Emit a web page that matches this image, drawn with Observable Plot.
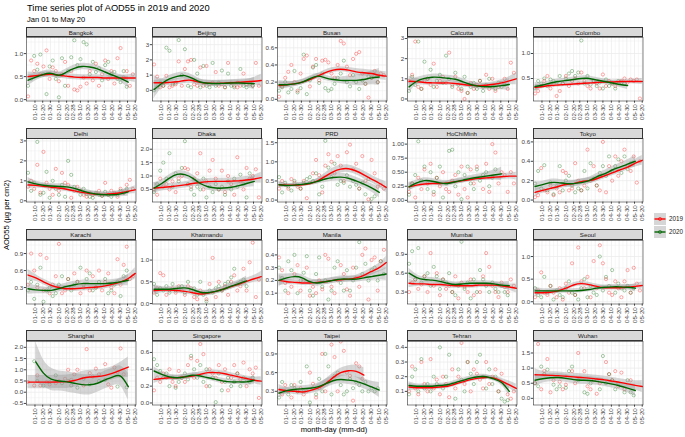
<!DOCTYPE html>
<html><head><meta charset="utf-8">
<script src="https://cdn.jsdelivr.net/npm/d3@7"></script>
<script src="https://cdn.jsdelivr.net/npm/@observablehq/plot@0.6"></script>
<style>
body{margin:0;background:#fff;font-family:"Liberation Sans",Arial,Helvetica,sans-serif;}
#root{position:relative;width:685px;height:437px;overflow:hidden;background:#fff;}
.abs{position:absolute;white-space:nowrap;line-height:1;}
.strip{position:absolute;box-sizing:border-box;background:#d9d9d9;border:0.6px solid #333;font-size:6.2px;color:#1a1a1a;text-align:center;line-height:9.4px;}
svg{overflow:visible}
</style></head><body><div id="root"></div>
<script>
// ---------- DATA ----------
const cities = ["Bangkok","Beijing","Busan","Calcutta","Colombo","Delhi","Dhaka","PRD","HoChiMinh","Tokyo","Karachi","Khatmandu","Manila","Mumbai","Seoul","Shanghai","Singapore","Taipei","Tehran","Wuhan"];
const seriesNames = ["2019","2020"];
const seriesColors = ["#ff0000","#006400"];
const xTickLabels = ["01-10","01-20","01-30","02-10","02-20","02-28","03-10","03-20","03-30","04-10","04-20","04-30","05-10","05-20"];
const yTickLabels = [
 ["0.0","0.5","1.0"],["0","1","2","3"],["0.0","0.2","0.4","0.6"],["0","1","2","3"],["0.5","1.0"],
 ["0","1","2","3"],["0.5","1.0","1.5","2.0"],["0.0","0.5","1.0","1.5"],["0.00","0.25","0.50","0.75","1.00"],["0.0","0.2","0.4","0.6"],
 ["0.3","0.6","0.9"],["0.0","0.5","1.0"],["0.1","0.2","0.3","0.4"],["0.3","0.6","0.9"],["0.0","0.5","1.0"],
 ["-0.5","0.0","0.5","1.0","1.5","2.0"],["0.0","0.2","0.4","0.6"],["0.3","0.6","0.9"],["0.1","0.2","0.3","0.4"],["0.0","0.5","1.0","1.5"]
];
const yDomains = [
 [-0.03,1.35],[-0.70,3.47],[-0.02,0.72],[-0.1,3.05],[0.05,1.32],
 [-0.06,3.12],[0.03,2.40],[-0.05,1.61],[-0.03,1.10],[-0.02,0.635],
 [0.01,1.13],[-0.01,1.45],[0.015,0.513],[0.11,1.12],[-0.05,1.355],
 [-0.57,2.26],[-0.024,0.73],[0.08,1.10],[0.007,0.44],[-0.22,1.88]
];
// smoothed curve knots (day of year offset from Jan 01)
const knotDays = [0,10,20,30,40,50,60,70,80,90,100,110,120,130,139];
const smooth2019 = [
 [0.50,0.52,0.54,0.55,0.53,0.51,0.49,0.48,0.48,0.48,0.47,0.47,0.47,0.47,0.47],
 [0.50,0.50,0.52,0.56,0.65,0.65,0.52,0.47,0.46,0.47,0.50,0.53,0.56,0.60,0.65],
 [0.16,0.17,0.18,0.20,0.23,0.27,0.31,0.34,0.35,0.34,0.32,0.31,0.30,0.28,0.27],
 [0.88,0.86,0.82,0.80,0.79,0.80,0.77,0.72,0.68,0.66,0.68,0.73,0.80,0.90,1.00],
 [0.32,0.34,0.36,0.37,0.38,0.39,0.40,0.41,0.42,0.43,0.43,0.44,0.44,0.44,0.44],
 [0.80,0.77,0.73,0.68,0.64,0.58,0.50,0.42,0.36,0.32,0.32,0.35,0.40,0.48,0.55],
 [0.55,0.57,0.60,0.63,0.67,0.72,0.76,0.79,0.80,0.80,0.81,0.82,0.85,0.89,0.94],
 [0.40,0.39,0.39,0.40,0.43,0.50,0.62,0.74,0.81,0.82,0.76,0.66,0.55,0.44,0.33],
 [0.24,0.27,0.29,0.30,0.30,0.31,0.33,0.35,0.37,0.39,0.40,0.41,0.42,0.43,0.43],
 [0.08,0.10,0.12,0.14,0.16,0.17,0.19,0.20,0.22,0.25,0.28,0.31,0.34,0.38,0.41],
 [0.52,0.47,0.40,0.34,0.30,0.28,0.28,0.29,0.30,0.31,0.33,0.36,0.40,0.46,0.55],
 [0.30,0.31,0.31,0.30,0.28,0.25,0.22,0.24,0.28,0.33,0.39,0.45,0.51,0.57,0.62],
 [0.20,0.19,0.185,0.18,0.18,0.185,0.19,0.20,0.205,0.21,0.22,0.24,0.27,0.30,0.34],
 [0.44,0.43,0.43,0.42,0.42,0.41,0.40,0.40,0.40,0.41,0.41,0.41,0.40,0.38,0.36],
 [0.20,0.20,0.21,0.24,0.30,0.37,0.40,0.38,0.34,0.31,0.31,0.31,0.32,0.34,0.36],
 [0.45,0.45,0.45,0.45,0.46,0.47,0.52,0.62,0.68,0.70,0.75,0.85,0.98,1.12,null],
 [0.28,0.29,0.30,0.30,0.31,0.32,0.34,0.36,0.36,0.35,0.33,0.31,0.29,0.27,0.26],
 [0.33,0.31,0.30,0.29,0.31,0.35,0.42,0.52,0.60,0.63,0.62,0.56,null,null,null],
 [0.13,0.125,0.125,0.125,0.13,0.135,0.15,0.165,0.18,0.19,0.195,0.19,0.17,0.145,0.12],
 [0.78,0.77,0.76,0.75,0.73,0.71,0.69,0.67,0.64,0.61,0.57,0.53,0.48,0.43,0.39]
];
const smooth2020 = [
 [0.42,0.49,0.55,0.57,0.53,0.60,0.68,0.72,0.71,0.67,0.60,0.53,0.46,0.38,null],
 [0.05,0.45,0.75,0.92,0.97,0.78,0.55,0.47,0.45,0.46,0.48,0.48,0.46,0.44,null],
 [0.17,0.17,0.18,0.20,0.24,0.27,0.25,0.23,0.22,0.22,0.22,0.23,0.25,0.26,null],
 [0.60,0.88,1.02,1.08,1.07,1.03,0.98,0.85,0.72,0.64,0.61,0.62,0.66,0.72,null],
 [0.34,0.37,0.41,0.44,0.46,0.48,0.50,0.50,0.47,0.44,0.41,0.38,0.36,null,null],
 [0.95,0.85,0.78,0.74,0.72,0.70,0.62,0.50,0.40,0.33,0.30,0.30,0.35,0.45,null],
 [0.55,0.72,0.92,1.06,1.05,0.92,0.72,0.60,0.55,0.55,0.58,0.64,0.72,0.80,null],
 [0.40,0.38,0.39,0.41,0.44,0.49,0.55,0.59,0.60,0.57,0.50,0.42,0.32,0.20,null],
 [0.24,0.31,0.35,0.34,0.31,0.30,0.33,0.36,0.39,0.41,0.43,0.45,0.47,null,null],
 [0.14,0.16,0.18,0.18,0.17,0.17,0.18,0.20,0.24,0.27,0.31,0.34,0.37,0.40,null],
 [0.28,0.26,0.25,0.25,0.28,0.32,0.35,0.37,0.37,0.37,0.37,0.38,0.40,0.43,null],
 [0.33,0.33,0.33,0.35,0.36,0.32,0.26,0.25,0.28,0.33,0.40,0.46,0.52,null,null],
 [0.20,0.22,0.23,0.22,0.19,0.18,0.19,0.20,0.21,0.21,0.21,0.22,0.23,0.24,0.25],
 [0.60,0.53,0.50,0.49,0.47,0.44,0.42,0.43,0.44,0.44,0.44,0.43,0.41,0.40,null],
 [0.24,0.24,0.24,0.24,0.24,0.24,0.25,0.27,0.30,0.32,0.33,0.33,0.32,0.30,null],
 [null,1.35,0.85,0.58,0.50,0.46,0.40,0.34,0.33,0.40,0.55,0.68,0.72,0.25,null],
 [0.38,0.34,0.31,0.30,0.31,0.33,0.32,0.30,0.28,0.26,0.25,0.25,0.25,0.27,null],
 [0.27,0.31,0.33,0.34,0.35,0.37,0.42,0.47,0.49,0.48,0.46,0.42,0.37,0.32,null],
 [0.14,0.135,0.135,0.135,0.14,0.145,0.16,0.175,0.19,0.20,0.20,0.185,0.16,0.10,null],
 [0.60,0.65,0.68,0.69,0.66,0.62,0.60,0.59,0.56,0.52,0.47,0.41,0.34,0.26,null]
];
// half-width of the confidence band at each knot
const band2019 = [
 [0.10,0.07,0.06,0.06,0.06,0.06,0.06,0.06,0.06,0.06,0.06,0.06,0.06,0.07,0.10],
 [0.45,0.25,0.2,0.2,0.2,0.2,0.2,0.2,0.2,0.2,0.2,0.2,0.2,0.25,0.4],
 [0.04,0.03,0.03,0.03,0.03,0.03,0.03,0.03,0.03,0.03,0.04,0.04,0.04,0.05,0.05],
 [0.25,0.15,0.13,0.12,0.12,0.12,0.12,0.12,0.12,0.12,0.12,0.13,0.15,0.2,0.3],
 [0.06,0.04,0.04,0.04,0.04,0.04,0.04,0.04,0.04,0.04,0.04,0.04,0.04,0.05,0.06],
 [0.2,0.13,0.12,0.12,0.12,0.12,0.12,0.12,0.12,0.12,0.12,0.12,0.13,0.15,0.2],
 [0.2,0.13,0.12,0.12,0.12,0.12,0.12,0.12,0.12,0.12,0.12,0.12,0.13,0.15,0.2],
 [0.08,0.05,0.05,0.05,0.05,0.07,0.09,0.1,0.1,0.1,0.1,0.1,0.1,0.11,0.14],
 [0.07,0.04,0.04,0.04,0.04,0.04,0.04,0.04,0.04,0.04,0.04,0.04,0.05,0.05,0.07],
 [0.04,0.03,0.03,0.03,0.03,0.03,0.03,0.03,0.03,0.03,0.03,0.03,0.03,0.04,0.05],
 [0.1,0.06,0.05,0.05,0.05,0.05,0.05,0.05,0.05,0.05,0.05,0.05,0.06,0.07,0.1],
 [0.1,0.06,0.06,0.06,0.06,0.06,0.06,0.06,0.06,0.06,0.06,0.06,0.07,0.08,0.12],
 [0.04,0.025,0.02,0.02,0.02,0.02,0.02,0.02,0.02,0.02,0.02,0.025,0.03,0.035,0.05],
 [0.07,0.04,0.04,0.04,0.04,0.04,0.04,0.04,0.04,0.04,0.04,0.04,0.04,0.05,0.07],
 [0.08,0.05,0.05,0.05,0.05,0.05,0.05,0.05,0.05,0.05,0.05,0.05,0.05,0.06,0.08],
 [0.3,0.3,0.3,0.3,0.3,0.3,0.3,0.3,0.3,0.3,0.3,0.3,0.35,0.45,null],
 [0.05,0.03,0.03,0.03,0.03,0.03,0.03,0.03,0.03,0.03,0.03,0.03,0.03,0.04,0.05],
 [0.08,0.05,0.05,0.05,0.05,0.06,0.07,0.07,0.07,0.08,0.1,0.12,null,null,null],
 [0.025,0.015,0.015,0.015,0.015,0.015,0.015,0.015,0.015,0.015,0.015,0.015,0.02,0.025,0.03],
 [0.2,0.13,0.12,0.12,0.12,0.12,0.12,0.12,0.12,0.12,0.12,0.12,0.13,0.15,0.2]
];
const band2020 = [
 [0.12,0.08,0.07,0.07,0.07,0.07,0.07,0.07,0.07,0.07,0.07,0.07,0.08,0.12,null],
 [0.6,0.3,0.22,0.22,0.22,0.22,0.2,0.2,0.2,0.2,0.2,0.2,0.25,0.4,null],
 [0.05,0.04,0.03,0.03,0.03,0.03,0.03,0.03,0.04,0.05,0.06,0.07,0.08,0.1,null],
 [0.3,0.18,0.15,0.15,0.15,0.15,0.15,0.15,0.15,0.15,0.15,0.17,0.2,0.3,null],
 [0.08,0.05,0.05,0.05,0.05,0.05,0.05,0.05,0.05,0.05,0.05,0.06,0.08,null,null],
 [0.22,0.14,0.13,0.13,0.13,0.13,0.13,0.13,0.13,0.13,0.13,0.13,0.15,0.22,null],
 [0.2,0.14,0.13,0.13,0.13,0.13,0.13,0.13,0.13,0.13,0.13,0.13,0.15,0.2,null],
 [0.08,0.05,0.05,0.05,0.05,0.07,0.09,0.1,0.1,0.1,0.1,0.1,0.11,0.14,null],
 [0.08,0.05,0.05,0.05,0.05,0.05,0.05,0.05,0.05,0.06,0.07,0.09,0.12,null,null],
 [0.05,0.035,0.035,0.035,0.035,0.035,0.035,0.035,0.035,0.035,0.035,0.04,0.045,0.06,null],
 [0.1,0.07,0.06,0.06,0.06,0.06,0.06,0.06,0.06,0.06,0.06,0.06,0.07,0.1,null],
 [0.1,0.06,0.06,0.06,0.06,0.06,0.06,0.06,0.06,0.06,0.07,0.08,0.11,null,null],
 [0.05,0.03,0.025,0.025,0.025,0.025,0.025,0.025,0.025,0.025,0.025,0.025,0.03,0.035,0.05],
 [0.08,0.05,0.04,0.04,0.04,0.04,0.04,0.04,0.04,0.04,0.04,0.04,0.05,0.07,null],
 [0.08,0.05,0.05,0.05,0.05,0.05,0.05,0.05,0.05,0.05,0.05,0.05,0.06,0.08,null],
 [null,0.9,0.6,0.5,0.45,0.45,0.45,0.45,0.45,0.4,0.4,0.4,0.45,0.6,null],
 [0.05,0.03,0.03,0.03,0.03,0.03,0.03,0.03,0.03,0.03,0.03,0.03,0.04,0.05,null],
 [0.08,0.05,0.05,0.05,0.05,0.06,0.07,0.07,0.07,0.07,0.07,0.08,0.09,0.12,null],
 [0.025,0.015,0.015,0.015,0.015,0.015,0.015,0.015,0.015,0.015,0.015,0.015,0.02,0.03,null],
 [0.2,0.14,0.13,0.13,0.13,0.13,0.13,0.13,0.13,0.13,0.13,0.13,0.15,0.2,null]
];
// observed points (sampled every 4 days from Jan 01)
const pointDays = [0,4,8,12,16,20,24,28,32,36,40,44,48,52,56,60,64,68,72,76,80,84,88,92,96,100,104,108,112,116,120,124,128,132,136];
const points2019 = [
 [0.07,0.85,0.62,0.78,0.55,0.72,1.07,0.45,0.70,0.62,0.40,0.55,0.82,0.30,0.62,0.22,0.20,0.28,0.48,0.35,0.62,0.42,0.78,0.30,0.55,0.85,0.45,0.62,0.35,0.90,1.12,0.48,0.62,0.30,0.55],
 [1.7,0.9,0.2,0.3,0.95,0.2,0.3,0.4,1.9,0.3,1.4,1.9,2.0,0.4,0.3,1.5,0.3,1.6,0.4,0.5,1.2,0.3,0.4,0.2,1.8,0.5,0.3,0.2,0.3,1.1,0.4,0.5,0.3,1.8,0.3],
 [0.03,0.15,0.25,0.32,0.40,0.20,0.10,0.30,0.47,0.51,0.15,0.38,0.47,0.22,0.45,0.46,0.43,0.30,0.25,0.40,0.68,0.65,0.38,0.28,0.47,0.53,0.55,0.30,0.18,0.02,0.25,0.33,0.20,0.30,0.28],
 [0.9,1.2,2.85,0.6,0.5,0.9,1.0,0.7,1.75,0.6,0.9,1.1,0.8,2.3,0.7,1.1,0.5,0.4,0.0,0.3,0.8,0.5,0.7,0.9,0.6,1.2,0.5,1.0,0.4,0.6,0.8,1.0,0.5,1.8,1.3],
 [0.20,0.25,0.35,0.45,0.55,0.30,0.38,0.15,0.25,0.40,0.55,0.35,0.45,0.50,0.40,0.62,0.45,0.35,0.30,0.45,0.40,0.30,0.58,0.35,0.45,0.40,0.35,0.40,0.45,0.50,0.42,0.48,0.45,0.48,0.10],
 [0.7,1.0,0.6,1.8,0.4,2.45,0.9,0.6,0.3,1.6,0.5,1.4,0.9,0.8,0.15,0.5,0.7,0.5,0.3,0.2,0.4,0.3,0.35,0.5,0.25,0.9,0.3,0.5,0.4,0.2,0.6,0.4,0.8,1.05,0.6],
 [0.5,0.3,0.9,0.6,0.7,0.5,0.8,0.4,0.9,1.0,1.3,1.25,0.6,0.9,1.1,1.85,0.5,0.8,1.2,1.6,0.9,0.5,1.2,0.4,1.0,0.7,0.3,1.7,0.8,0.5,1.3,0.9,1.0,1.25,0.2],
 [0.3,0.5,0.4,0.3,0.55,0.45,0.35,0.3,0.5,0.05,0.45,0.7,1.05,0.65,0.2,0.9,1.2,1.0,0.7,1.15,0.9,0.5,1.25,1.45,0.8,0.95,0.3,1.15,0.5,0.02,1.05,0.7,0.35,0.4,0.3],
 [0.15,0.3,0.05,0.4,0.2,0.55,0.3,0.65,0.1,0.4,0.25,0.5,0.2,0.15,0.35,0.45,0.1,0.6,0.2,0.05,0.55,0.3,0.6,0.4,0.2,0.65,0.15,1.0,0.85,0.3,0.5,0.45,0.15,0.5,0.3],
 [0.03,0.05,0.33,0.1,0.08,0.15,0.05,0.12,0.08,0.30,0.28,0.1,0.12,0.38,0.20,0.10,0.15,0.52,0.2,0.35,0.15,0.1,0.6,0.08,0.35,0.2,0.45,0.25,0.4,0.52,0.35,0.3,0.45,0.18,0.4],
 [0.35,0.9,0.6,0.3,0.88,0.25,0.82,0.2,0.35,0.5,1.07,0.2,0.25,0.45,0.3,0.55,0.4,0.2,0.35,0.6,0.25,0.5,0.3,0.6,0.25,0.4,0.55,0.3,0.2,0.8,0.35,0.7,1.02,0.45,0.5],
 [0.25,0.35,0.7,0.65,0.2,0.3,0.35,0.25,0.4,0.3,0.2,0.4,0.35,0.15,0.1,0.3,0.25,0.1,0.45,1.05,0.15,0.5,0.3,0.4,0.2,0.5,0.65,0.3,0.4,0.8,0.3,0.95,1.4,0.15,0.55],
 [0.38,0.28,0.18,0.1,0.15,0.25,0.32,0.12,0.2,0.3,0.08,0.15,0.1,0.2,0.13,0.4,0.37,0.15,0.1,0.2,0.32,0.25,0.13,0.08,0.3,0.22,0.15,0.4,0.45,0.05,0.36,0.38,0.12,0.35,0.44],
 [0.3,0.45,0.5,0.35,0.42,0.55,0.3,0.92,0.4,0.6,0.25,0.5,0.35,0.4,0.3,0.55,0.2,0.45,0.38,0.3,0.5,0.25,0.42,0.3,0.55,0.92,0.7,0.4,0.3,0.22,0.45,0.38,0.3,0.5,0.4],
 [0.1,0.25,0.65,0.2,0.15,0.35,0.2,0.1,0.3,0.05,0.4,0.2,0.85,0.15,1.2,0.45,0.3,0.55,0.1,0.9,0.3,1.25,0.85,0.5,0.2,0.15,0.45,0.3,0.1,0.45,0.7,0.2,0.75,0.4,0.25],
 [0.45,null,0.3,0.75,0.3,null,0.45,0.35,null,0.4,0.5,null,0.6,1.0,0.55,0.8,1.0,null,0.3,1.92,0.85,0.7,1.05,0.8,null,1.25,0.35,0.2,1.1,0.9,1.95,0.8,null,null,null],
 [0.15,0.3,0.25,0.35,0.3,0.4,0.25,0.2,0.38,0.3,0.25,0.45,0.53,0.3,0.5,0.7,0.58,0.2,0.4,0.35,0.3,0.45,0.25,0.4,0.15,0.3,0.45,0.35,0.28,0.48,0.2,0.4,0.35,0.42,0.06],
 [0.3,0.25,0.4,0.3,0.2,0.4,0.3,0.35,0.25,0.3,0.6,0.42,0.2,0.35,0.9,0.3,0.45,1.05,0.85,0.3,1.1,0.95,0.6,0.55,0.15,0.75,0.7,0.5,null,null,null,null,null,null,null],
 [0.1,0.27,0.12,0.08,0.3,0.15,0.1,0.32,0.12,0.18,0.08,0.2,0.15,0.06,0.25,0.12,0.2,0.43,0.15,0.3,0.1,0.25,0.22,0.18,0.12,0.3,0.15,0.2,0.25,0.1,0.22,0.15,0.08,0.05,0.1],
 [0.5,1.8,0.3,0.9,1.3,0.2,0.6,null,0.55,0.3,0.45,null,0.9,0.5,1.5,null,0.9,0.4,0.3,0.6,0.15,0.5,null,1.2,0.8,0.6,0.9,0.4,0.85,0.3,null,0.6,null,null,null]
];
const points2020 = [
 [0.30,0.45,0.95,0.65,0.98,0.55,0.12,0.72,0.85,0.45,0.05,0.90,0.30,0.62,0.92,1.29,0.75,0.88,1.25,1.20,0.55,0.82,0.60,0.68,0.42,0.75,0.82,0.55,0.60,0.45,0.38,0.62,0.28,null,null],
 [0.0,0.2,0.5,0.3,2.8,2.6,0.4,0.5,3.3,1.0,2.7,0.3,0.2,2.0,1.1,0.2,1.6,0.3,0.2,1.8,0.3,0.5,1.3,0.2,1.1,0.3,0.2,0.5,1.4,0.3,0.2,0.4,0.3,null,null],
 [0.10,0.14,0.20,0.08,0.12,0.33,0.08,0.13,0.52,0.06,0.22,0.37,0.40,0.19,0.30,0.13,0.10,0.12,0.18,0.25,0.30,0.45,0.20,0.15,0.28,0.20,0.12,0.22,0.18,0.27,0.25,0.28,0.20,null,null],
 [0.4,1.1,0.7,2.85,0.5,1.85,1.0,1.45,0.6,0.9,1.2,0.8,2.15,1.0,0.6,1.3,0.7,0.5,1.1,0.3,0.6,0.8,0.5,0.9,0.4,0.7,1.0,0.6,0.5,0.8,0.6,0.7,null,null,null],
 [0.30,0.45,0.40,0.50,0.35,0.48,0.45,0.42,0.55,0.40,0.50,0.60,0.65,0.55,0.62,1.26,0.40,0.55,0.38,0.45,0.35,0.42,0.30,0.48,0.35,0.40,0.30,0.45,0.42,0.40,null,null,null,null,null],
 [1.4,0.5,0.9,2.95,0.3,0.4,1.45,0.15,1.0,0.6,0.3,0.8,0.2,2.0,1.3,0.7,0.5,0.3,0.6,0.35,0.2,0.15,0.4,0.3,0.25,0.45,0.3,0.2,0.35,0.3,0.5,0.4,0.6,null,null],
 [0.4,0.7,1.2,1.5,0.9,1.85,0.6,1.1,0.8,1.3,2.3,0.7,0.5,0.3,0.6,0.5,0.9,0.2,0.6,0.4,0.7,0.5,0.6,0.3,0.8,0.5,0.9,0.6,1.05,0.7,0.2,1.1,null,null,null],
 [0.6,0.2,0.45,0.35,0.25,0.5,0.4,0.3,0.45,0.55,0.6,0.5,0.7,0.15,0.35,1.55,0.85,0.6,0.95,0.4,0.5,0.45,0.65,0.35,0.5,0.4,0.3,0.45,0.15,0.55,0.03,0.1,null,null,null],
 [0.1,0.3,0.45,1.05,0.35,0.6,0.2,0.5,0.15,0.4,0.6,0.05,0.3,0.88,0.9,0.25,0.5,0.02,0.45,0.6,0.3,0.2,0.55,0.35,0.45,0.5,0.25,0.4,0.55,null,null,null,null,null,null],
 [0.17,0.30,0.12,0.36,0.1,0.18,0.06,0.14,0.35,0.1,0.2,0.25,0.15,0.08,0.12,0.1,0.3,0.12,0.38,0.22,0.15,0.28,0.35,0.25,0.45,0.3,0.35,0.42,0.28,0.45,0.32,0.38,null,null,null],
 [0.25,0.4,0.1,0.35,0.65,0.05,0.25,0.3,0.15,0.2,0.35,0.5,0.3,0.45,0.25,0.35,0.4,0.65,0.3,0.45,0.55,0.25,0.3,0.4,0.35,0.45,0.2,0.25,0.35,0.4,0.15,0.5,0.6,null,null],
 [0.45,0.2,0.35,0.3,0.4,0.25,0.45,0.3,0.35,0.4,0.25,0.5,0.3,0.35,0.2,0.5,0.2,0.05,0.3,0.25,0.35,0.4,0.3,0.45,0.5,0.6,0.8,0.45,0.5,0.55,0.4,null,null,null,null],
 [0.3,0.22,0.12,0.35,0.28,0.4,0.1,0.2,0.26,0.39,0.12,0.08,0.25,0.38,0.15,0.2,0.05,0.12,0.3,0.35,0.18,0.12,0.28,0.12,0.2,0.3,0.5,0.25,0.33,0.2,0.28,0.3,0.2,0.35,0.25],
 [0.75,0.95,0.5,1.0,0.45,0.55,0.6,0.4,0.7,0.55,0.35,0.5,0.45,0.6,0.3,0.25,0.4,1.1,0.35,0.45,0.2,0.5,0.3,0.65,0.5,0.4,0.3,0.45,0.35,0.3,0.4,0.3,0.25,null,null],
 [0.3,0.15,0.1,0.55,0.2,0.35,0.05,0.25,0.15,0.1,0.3,0.45,0.2,0.15,0.05,0.3,0.5,0.1,0.35,0.2,0.15,1.0,0.25,0.55,0.35,0.7,0.2,0.4,0.3,0.25,0.35,0.2,0.3,null,null],
 [null,null,1.38,0.5,null,0.3,null,0.45,null,0.75,null,0.4,null,0.5,0.3,null,0.2,null,0.6,null,0.35,null,null,0.5,null,0.55,null,null,null,0.25,null,null,0.22,null,null],
 [0.52,0.45,0.38,0.3,0.35,0.2,0.3,0.18,0.25,0.3,0.35,0.28,0.56,0.4,0.3,0.45,0.25,0.4,0.2,0.3,0.01,0.35,0.15,0.25,0.3,0.2,0.25,0.35,0.2,0.3,0.28,0.25,0.3,null,null],
 [0.2,0.45,0.3,0.25,0.4,0.35,0.3,0.45,0.3,0.7,0.12,0.35,0.25,0.5,0.3,0.9,0.7,0.25,0.55,0.6,0.4,0.25,0.3,0.5,0.35,0.45,0.4,0.3,0.45,0.3,0.35,0.3,0.35,null,null],
 [0.08,0.2,0.25,0.1,0.32,0.12,0.15,0.1,0.2,0.15,0.4,0.12,0.2,0.35,0.15,0.05,0.25,0.18,0.1,0.3,0.22,0.15,0.3,0.35,0.2,0.12,0.25,0.15,0.2,0.1,0.05,0.03,0.04,null,null],
 [0.5,0.4,1.05,0.8,0.95,null,0.45,0.3,0.4,null,0.35,0.9,1.05,null,0.6,null,0.2,0.15,0.5,null,0.6,0.3,1.4,0.5,0.8,0.6,0.3,0.5,null,0.2,0.6,0.2,0.1,null,null]
];

// ---------- LAYOUT ----------
const root = document.getElementById("root");
const FONT = '"Liberation Sans",Arial,Helvetica,sans-serif';
const colLeft = [26,152,277,407,533];
const PW = 109.5, PH = 63.5, ML = 24, MB = 28;
const dayDate = d => new Date(Date.UTC(2019,0,1+d));
const xDomain = [new Date(Date.UTC(2018,11,30)), new Date(Date.UTC(2019,4,21))];
const xTicks = xTickLabels.map(s => new Date(Date.UTC(2019, +s.slice(0,2)-1, +s.slice(3))));
const xMinor = [new Date(+xTicks[0] - 5*864e5)].concat(xTicks.slice(1).map((t,k)=> new Date((+t + +xTicks[k])/2)));
const smooths = [smooth2019, smooth2020], bands = [band2019, band2020], points = [points2019, points2020];

function addDiv(html, css, cls){ const d=document.createElement("div"); d.className=cls||"abs"; d.innerHTML=html; Object.assign(d.style, css); root.appendChild(d); return d; }

addDiv("Time series plot of AOD55 in 2019 and 2020", {left:"27px", top:"3.6px", fontSize:"9.3px", color:"#000"});
addDiv("Jan 01 to May 20", {left:"27px", top:"16px", fontSize:"7.6px", color:"#000"});
addDiv("AOD55 (µg per cm2)", {left:"7px", top:"215px", fontSize:"7.6px", color:"#000", transform:"translate(-50%,-50%) rotate(-90deg)"});
addDiv("month-day (mm-dd)", {left:"334px", top:"425.5px", fontSize:"7.6px", color:"#000", transform:"translateX(-50%)"});

cities.forEach((city, i) => {
  const r = Math.floor(i/5), c = i % 5;
  const stripTop = 26.7 + 101.2*r, plotTop = stripTop + 10.5;
  const yTicks = yTickLabels[i].map(Number);
  const lab = new Map(yTicks.map((v,k)=>[v, yTickLabels[i][k]]));
  const [y0, y1] = yDomains[i];
  const clampY = v => Math.max(y0, Math.min(y1, v));
  const step = yTicks.length > 1 ? yTicks[1]-yTicks[0] : 1;
  const yMinor = [];
  for (let k = -1; k < yTicks.length; k++) { const v = yTicks[0] + step*(k+0.5); if (v > y0 && v < y1) yMinor.push(v); }

  const marks = [
    Plot.ruleX(xMinor, {stroke:"#ebebeb", strokeWidth:0.4}),
    Plot.ruleY(yMinor, {stroke:"#ebebeb", strokeWidth:0.4}),
    Plot.ruleX(xTicks, {stroke:"#ebebeb", strokeWidth:0.75}),
    Plot.ruleY(yTicks, {stroke:"#ebebeb", strokeWidth:0.75})
  ];
  const curves = [];
  [0,1].forEach(s => {
    const pts = [];
    pointDays.forEach((d,k) => { const v = points[s][i][k]; if (v != null) pts.push({x: dayDate(d), v}); });
    marks.push(Plot.dot(pts, {x:"x", y:"v", r:1.6, fill:"none", stroke: seriesColors[s], strokeWidth:0.6, strokeOpacity:0.55}));
    const sm = [];
    knotDays.forEach((d,k) => { const v = smooths[s][i][k]; if (v == null) return; const b = bands[s][i][k]; sm.push({x: dayDate(d), v, lo: clampY(v-b), hi: clampY(v+b)}); });
    curves.push(sm);
  });
  curves.forEach(sm => marks.push(Plot.areaY(sm, {x:"x", y1:"lo", y2:"hi", fill:"#999999", fillOpacity:0.4, curve:"natural"})));
  curves.forEach((sm,s) => marks.push(Plot.line(sm, {x:"x", y:"v", stroke: seriesColors[s], strokeWidth:1.4, curve:"natural"})));
  marks.push(Plot.frame({stroke:"#333", strokeWidth:0.6}));

  const svg = Plot.plot({
    width: ML + PW, height: PH + MB,
    marginLeft: ML, marginRight: 0, marginTop: 0, marginBottom: MB,
    style: {fontFamily: FONT, fontSize: "6.2px", color: "#444", background: "transparent", overflow: "visible"},
    x: {type:"utc", domain: xDomain, ticks: xTicks, tickFormat: d3.utcFormat("%m-%d"), tickRotate: -90, tickSize: 2.2, tickPadding: 1, label: null},
    y: {domain: yDomains[i], ticks: yTicks, tickFormat: d => lab.get(d), tickSize: 2.2, tickPadding: 1.2, label: null},
    marks
  });
  svg.style.position = "absolute";
  svg.style.left = (colLeft[c] - ML) + "px";
  svg.style.top = plotTop + "px";
  root.appendChild(svg);

  addDiv(city, {left: colLeft[c] + "px", top: stripTop + "px", width: PW + "px", height: "10.8px"}, "strip");
});

// legend
seriesNames.forEach((name, s) => {
  const cy = 219.3 + 13*s;
  addDiv(`<svg width="12" height="12" style="display:block"><rect x="0" y="0" width="12" height="12" fill="#d6d6d6"/><line x1="0.5" x2="11.5" y1="6" y2="6" stroke="${seriesColors[s]}" stroke-width="1.4"/><circle cx="6" cy="6" r="1.6" fill="none" stroke="${seriesColors[s]}" stroke-width="0.6"/></svg>`,
    {left:"654px", top:(cy-6)+"px"});
  addDiv(name, {left:"669px", top:(cy-3.2)+"px", fontSize:"6.3px", color:"#1a1a1a"});
});
</script></body></html>
